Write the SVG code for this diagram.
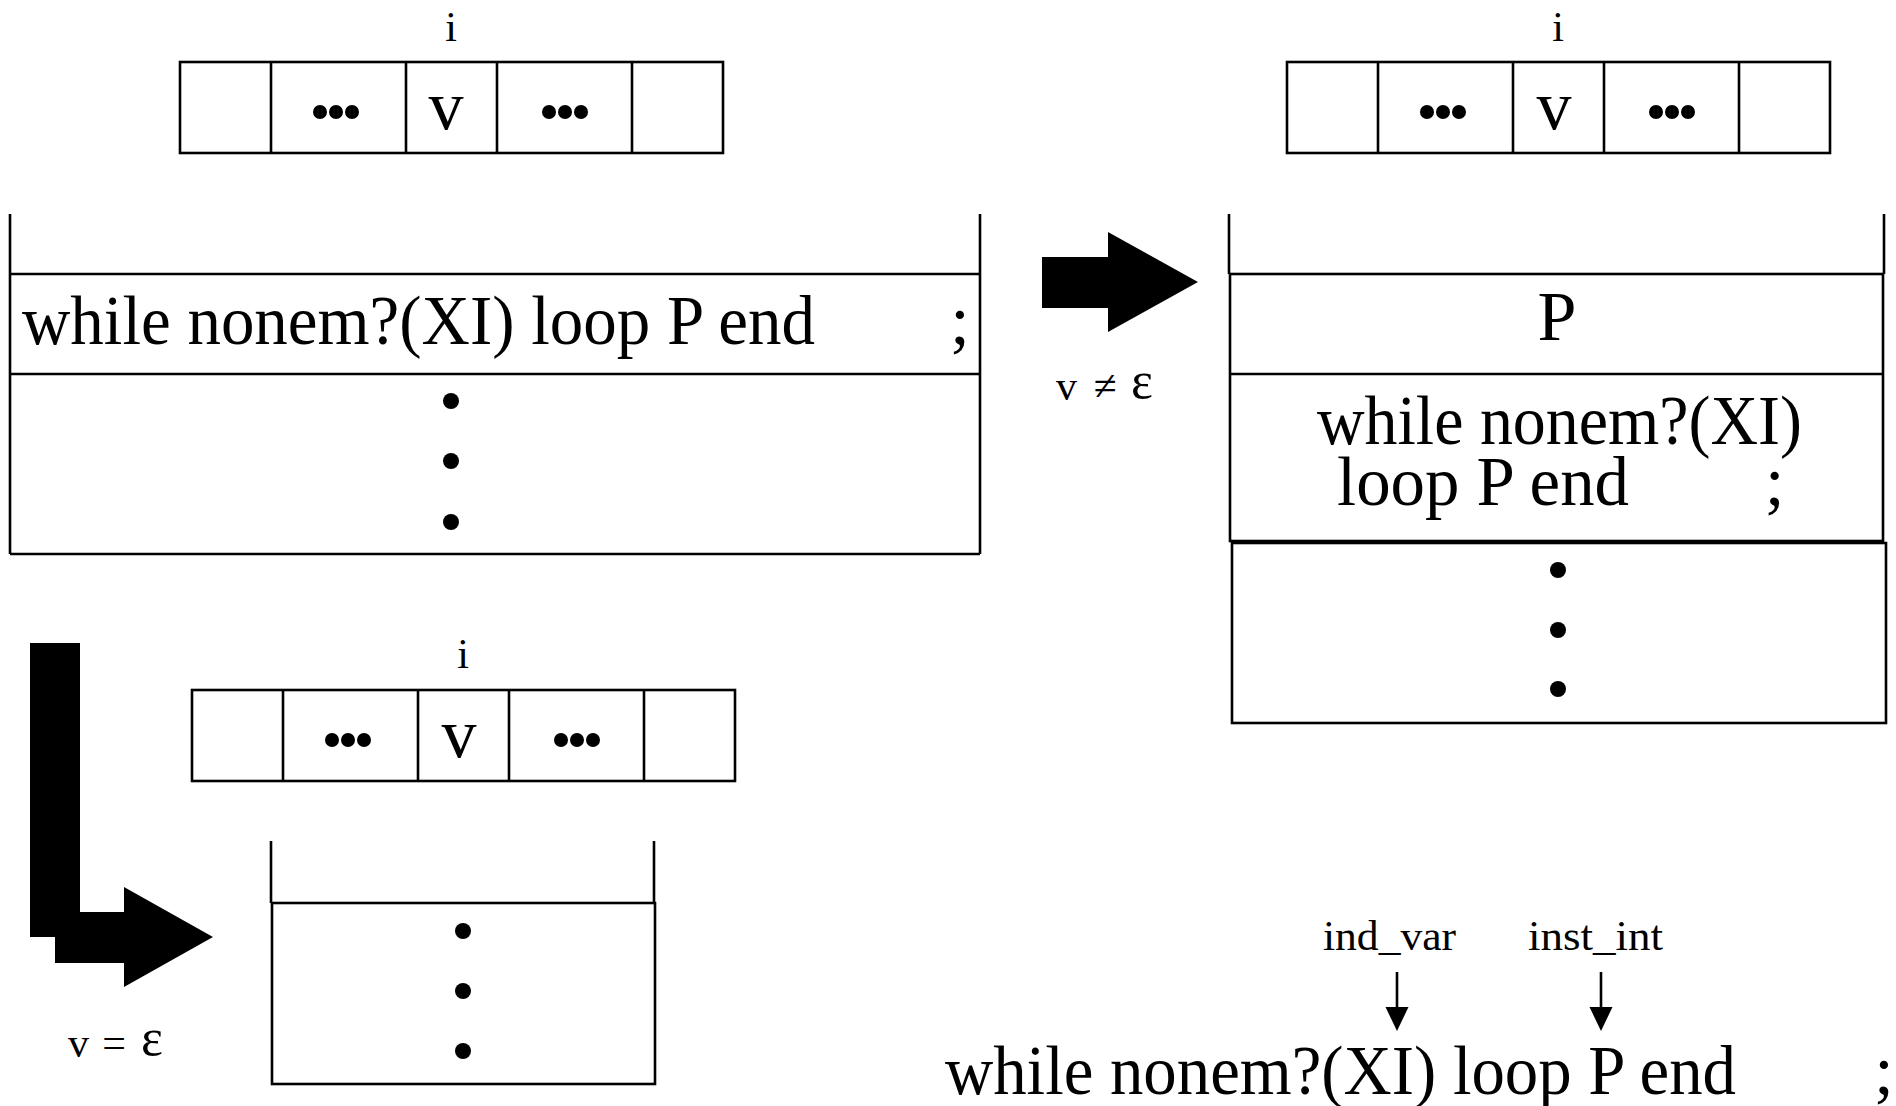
<svg xmlns="http://www.w3.org/2000/svg" width="1896" height="1106" viewBox="0 0 1896 1106">
<defs>
<style>
.ln{fill:none;stroke:#000;stroke-width:2.6}
.big{font-family:"Liberation Serif","Times New Roman",serif;font-size:70px;fill:#000}
.sm{font-family:"Liberation Serif","Times New Roman",serif;font-size:42px;fill:#000}
.eps{font-size:52px}
.dot{fill:#000}
.blk{fill:#000;stroke:none}
</style>
<marker id="ah" markerUnits="userSpaceOnUse" markerWidth="30" markerHeight="30" refX="0" refY="0" orient="auto" overflow="visible">
<path d="M0,-11.5 L24,0 L0,11.5 z" fill="#000"/>
</marker>
</defs>
<rect width="1896" height="1106" fill="#fff"/>

<!-- Top-left string -->
<g id="string-top-left">
<text class="sm" x="451" y="41" text-anchor="middle">i</text>
<rect class="ln" x="180" y="62" width="543" height="91"/>
<line class="ln" x1="271" y1="62" x2="271" y2="153"/>
<line class="ln" x1="406" y1="62" x2="406" y2="153"/>
<line class="ln" x1="497" y1="62" x2="497" y2="153"/>
<line class="ln" x1="632" y1="62" x2="632" y2="153"/>
<circle class="dot" cx="320" cy="112" r="7"/><circle class="dot" cx="336" cy="112" r="7"/><circle class="dot" cx="352" cy="112" r="7"/>
<circle class="dot" cx="549" cy="112" r="7"/><circle class="dot" cx="565" cy="112" r="7"/><circle class="dot" cx="581" cy="112" r="7"/>
<text class="big" x="446" y="129" text-anchor="middle">v</text>
</g>

<!-- Top-left stack -->
<g id="stack-top-left">
<line class="ln" x1="10" y1="214" x2="10" y2="554"/>
<line class="ln" x1="980" y1="214" x2="980" y2="554"/>
<line class="ln" x1="10" y1="274" x2="980" y2="274"/>
<line class="ln" x1="10" y1="374" x2="980" y2="374"/>
<line class="ln" x1="10" y1="554" x2="980" y2="554"/>
<text class="big" x="22" y="344" textLength="793" lengthAdjust="spacingAndGlyphs">while nonem?(XI) loop P end</text>
<text class="big" x="960" y="344" text-anchor="middle">;</text>
<circle class="dot" cx="451" cy="401" r="8"/>
<circle class="dot" cx="451" cy="461" r="8"/>
<circle class="dot" cx="451" cy="522" r="8"/>
</g>

<!-- Top-right string -->
<g id="string-top-right">
<text class="sm" x="1558" y="41" text-anchor="middle">i</text>
<rect class="ln" x="1287" y="62" width="543" height="91"/>
<line class="ln" x1="1378" y1="62" x2="1378" y2="153"/>
<line class="ln" x1="1513" y1="62" x2="1513" y2="153"/>
<line class="ln" x1="1604" y1="62" x2="1604" y2="153"/>
<line class="ln" x1="1739" y1="62" x2="1739" y2="153"/>
<circle class="dot" cx="1427" cy="112" r="7"/><circle class="dot" cx="1443" cy="112" r="7"/><circle class="dot" cx="1459" cy="112" r="7"/>
<circle class="dot" cx="1656" cy="112" r="7"/><circle class="dot" cx="1672" cy="112" r="7"/><circle class="dot" cx="1688" cy="112" r="7"/>
<text class="big" x="1554" y="129" text-anchor="middle">v</text>
</g>

<!-- Top-right stack -->
<g id="stack-top-right">
<line class="ln" x1="1229" y1="214" x2="1229" y2="274"/>
<line class="ln" x1="1884" y1="214" x2="1884" y2="274"/>
<rect class="ln" x="1230" y="274" width="653" height="267"/>
<line class="ln" x1="1230" y1="374" x2="1883" y2="374"/>
<rect class="ln" x="1232" y="543" width="654" height="180"/>
<text class="big" x="1557" y="340" text-anchor="middle">P</text>
<text class="big"><tspan x="1317" y="444" textLength="485" lengthAdjust="spacingAndGlyphs">while nonem?(XI)</tspan><tspan x="1337" y="505" textLength="292" lengthAdjust="spacingAndGlyphs">loop P end</tspan><tspan x="1765" y="505">;</tspan></text>
<circle class="dot" cx="1558" cy="570" r="8"/>
<circle class="dot" cx="1558" cy="630" r="8"/>
<circle class="dot" cx="1558" cy="689" r="8"/>
</g>

<!-- Bottom-left string -->
<g id="string-bottom">
<text class="sm" x="463" y="668" text-anchor="middle">i</text>
<rect class="ln" x="192" y="690" width="543" height="91"/>
<line class="ln" x1="283" y1="690" x2="283" y2="781"/>
<line class="ln" x1="418" y1="690" x2="418" y2="781"/>
<line class="ln" x1="509" y1="690" x2="509" y2="781"/>
<line class="ln" x1="644" y1="690" x2="644" y2="781"/>
<circle class="dot" cx="332" cy="740" r="7"/><circle class="dot" cx="348" cy="740" r="7"/><circle class="dot" cx="364" cy="740" r="7"/>
<circle class="dot" cx="561" cy="740" r="7"/><circle class="dot" cx="577" cy="740" r="7"/><circle class="dot" cx="593" cy="740" r="7"/>
<text class="big" x="459" y="757" text-anchor="middle">v</text>
</g>

<!-- Bottom-left stack -->
<g id="stack-bottom">
<line class="ln" x1="271" y1="841" x2="271" y2="903"/>
<line class="ln" x1="654" y1="841" x2="654" y2="903"/>
<rect class="ln" x="272" y="903" width="383" height="181"/>
<circle class="dot" cx="463" cy="931" r="8"/>
<circle class="dot" cx="463" cy="991" r="8"/>
<circle class="dot" cx="463" cy="1051" r="8"/>
</g>

<!-- Legend text -->
<g id="legend">
<text class="sm" x="1323" y="950" textLength="133" lengthAdjust="spacingAndGlyphs">ind_var</text>
<text class="sm" x="1528" y="950" textLength="135" lengthAdjust="spacingAndGlyphs">inst_int</text>
<text class="big" x="945" y="1094" textLength="791" lengthAdjust="spacingAndGlyphs">while nonem?(XI) loop P end</text>
<text class="big" x="1884" y="1094" text-anchor="middle">;</text>
</g>

<!-- Labels -->
<g id="label-neq">
<text class="sm" x="1056" y="400">v</text>
<text class="sm" x="1105" y="400" text-anchor="middle">≠</text>
<text class="sm eps" x="1131" y="398">ε</text>
</g>
<g id="label-eq">
<text class="sm" x="68" y="1057">v</text>
<text class="sm" x="114" y="1057" text-anchor="middle">=</text>
<text class="sm eps" x="141" y="1055">ε</text>
</g>

<!-- Connectors -->
<g id="connectors">
<polygon class="blk" points="1042,257 1108,257 1108,232 1198,282 1108,332 1108,308 1042,308"/>
<polygon class="blk" points="30,643 80,643 80,912 124,912 124,887 213,937 124,987 124,963 55,963 55,937 30,937"/>
<line class="ln" x1="1397" y1="972" x2="1397" y2="1007" marker-end="url(#ah)"/>
<line class="ln" x1="1601" y1="972" x2="1601" y2="1007" marker-end="url(#ah)"/>
</g>
</svg>
